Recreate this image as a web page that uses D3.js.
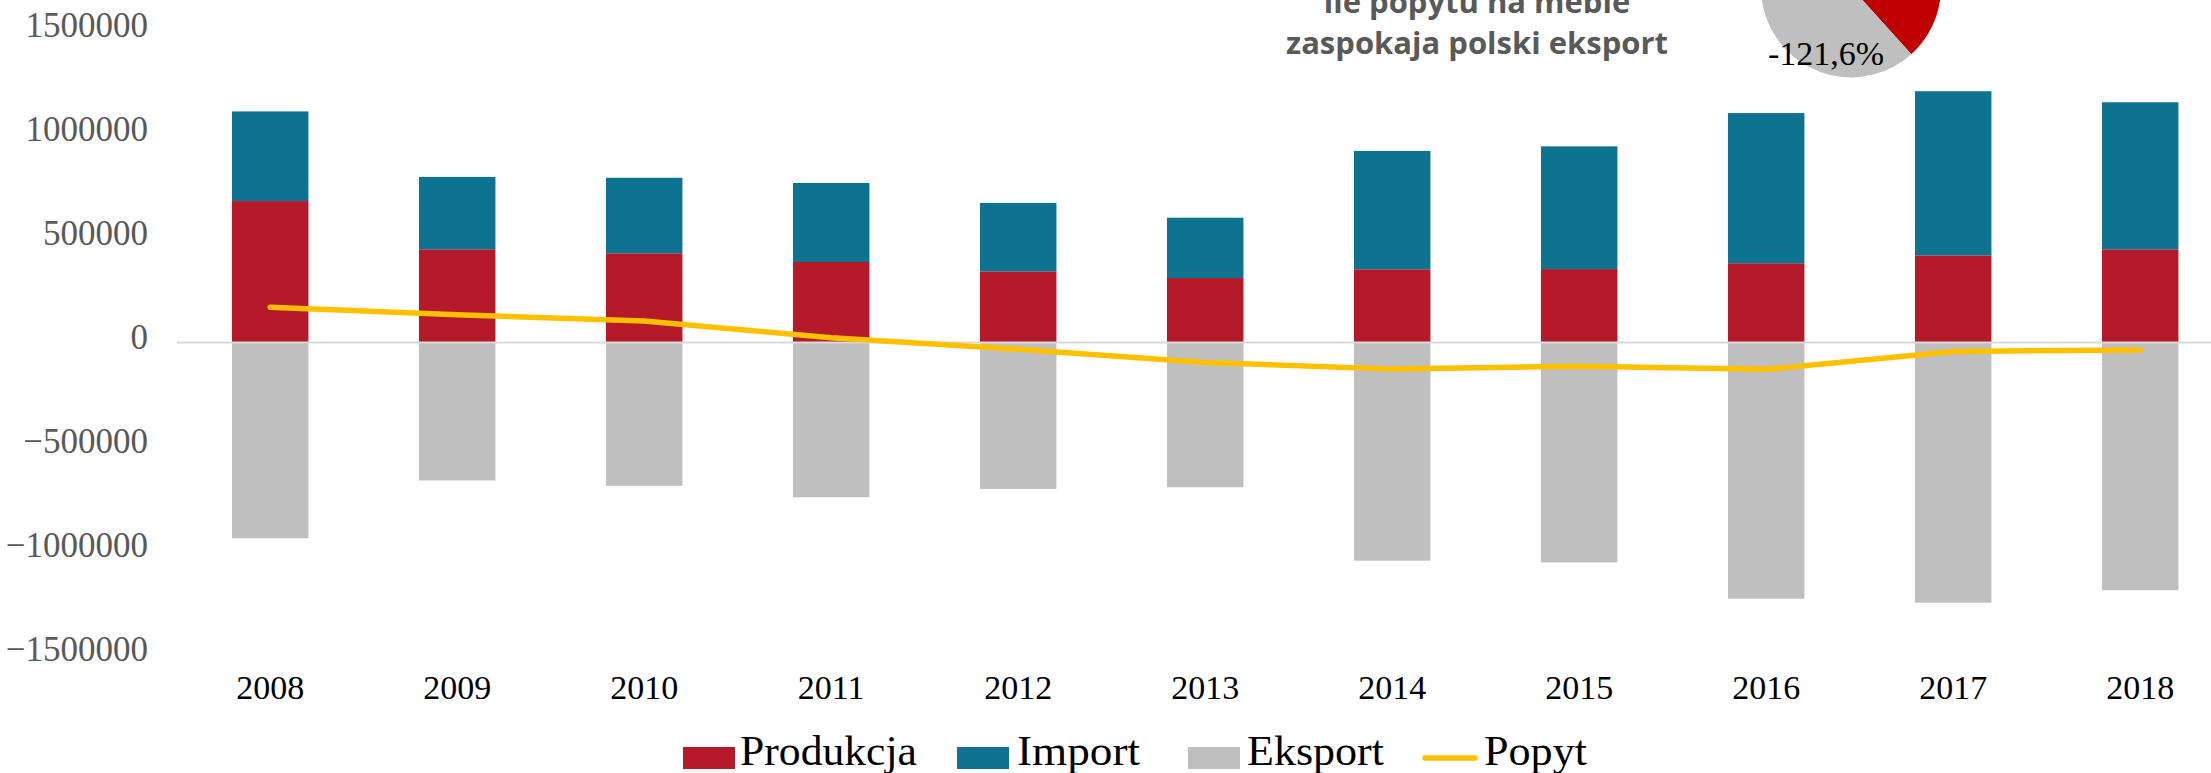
<!DOCTYPE html>
<html lang="pl">
<head>
<meta charset="utf-8">
<script src="https://cdn.jsdelivr.net/npm/d3@7"></script>
<style>
  html, body { margin: 0; padding: 0; background: #ffffff; }
  svg { display: block; }
</style>
</head>
<body>
<svg id="chart" width="2211" height="773"></svg>
<script>
// Lata
const years = ["2008", "2009", "2010", "2011", "2012", "2013", "2014", "2015", "2016", "2017", "2018"];

// Serie (wartości)
const produkcja = [680000, 448000, 429000, 387000, 342000, 310000, 352000, 353000, 381000, 419000, 448000];
const importVals = [431000, 348000, 363000, 380000, 329000, 290000, 569000, 590000, 722000, 789000, 707000];
const eksport = [-941000, -663000, -689000, -744000, -704000, -696000, -1049000, -1057000, -1232000, -1251000, -1191000];
const popyt = [170000, 133000, 103000, 23000, -33000, -96000, -128000, -114000, -129000, -43000, -36000];

// Oś Y
const yTicks = [-1500000, -1000000, -500000, 0, 500000, 1000000, 1500000];

// Legenda
const seriesNames = ["Produkcja", "Import", "Eksport", "Popyt"];

// Wykres kołowy: udział eksportu w popycie
const pieLabels = ["", "-121,6%"];
const pieValues = [75.5, 121.6];

// Tytuł
const titleLines = ["ile popytu na meble", "zaspokaja polski eksport"];

const colors = {
  Produkcja: "#B41A29",
  Import: "#0E7391",
  Eksport: "#BFBFBF",
  Popyt: "#FFC000"
};

const svg = d3.select("#chart");

const x = d3.scaleBand()
  .domain(years)
  .range([176.7, 2233.7])
  .paddingInner(0.591)
  .paddingOuter(0.2955);

const y = d3.scaleLinear()
  .domain([-1500000, 1500000])
  .range([654.5, 30.5]);

const serif = "'Liberation Serif', 'DejaVu Serif', serif";

// Słupki: produkcja od zera, import nad produkcją, eksport poniżej zera
const bars = svg.append("g");
years.forEach((yr, i) => {
  const bx = x(yr), bw = x.bandwidth();
  bars.append("rect")
    .attr("x", bx).attr("width", bw)
    .attr("y", y(produkcja[i])).attr("height", y(0) - y(produkcja[i]))
    .attr("fill", colors.Produkcja);
  bars.append("rect")
    .attr("x", bx).attr("width", bw)
    .attr("y", y(produkcja[i] + importVals[i]))
    .attr("height", y(produkcja[i]) - y(produkcja[i] + importVals[i]))
    .attr("fill", colors.Import);
  bars.append("rect")
    .attr("x", bx).attr("width", bw)
    .attr("y", y(0)).attr("height", y(eksport[i]) - y(0))
    .attr("fill", colors.Eksport);
});

// Linia zera
svg.append("line")
  .attr("x1", 176.7).attr("x2", 2233.7)
  .attr("y1", y(0)).attr("y2", y(0))
  .attr("stroke", "#D9D9D9").attr("stroke-width", 2);

// Linia popytu
const line = d3.line()
  .x((d, i) => x(years[i]) + x.bandwidth() / 2)
  .y(d => y(d));
svg.append("path")
  .datum(popyt)
  .attr("d", line)
  .attr("fill", "none")
  .attr("stroke", colors.Popyt)
  .attr("stroke-width", 5.5)
  .attr("stroke-linecap", "round")
  .attr("stroke-linejoin", "round");

// Etykiety osi Y
svg.append("g").selectAll("text")
  .data(yTicks)
  .join("text")
  .attr("x", 148)
  .attr("y", d => y(d) + 6)
  .attr("text-anchor", "end")
  .attr("font-family", serif)
  .attr("font-size", 35)
  .attr("fill", "#595959")
  .text(d => d3.format("d")(d));

// Etykiety osi X
svg.append("g").selectAll("text")
  .data(years)
  .join("text")
  .attr("x", d => x(d) + x.bandwidth() / 2)
  .attr("y", 699)
  .attr("text-anchor", "middle")
  .attr("font-family", serif)
  .attr("font-size", 34)
  .attr("fill", "#000000")
  .text(d => d);

// Legenda
const legend = svg.append("g");
const legendItems = [
  { name: seriesNames[0], kx: 683, tx: 740, tw: 177 },
  { name: seriesNames[1], kx: 957, tx: 1017, tw: 123 },
  { name: seriesNames[2], kx: 1188, tx: 1247, tw: 137 },
  { name: seriesNames[3], kx: 1423, tx: 1484, tw: 103 }
];
legendItems.forEach(it => {
  if (it.name === "Popyt") {
    legend.append("line")
      .attr("x1", it.kx + 2).attr("x2", it.kx + 52)
      .attr("y1", 758).attr("y2", 758)
      .attr("stroke", colors.Popyt).attr("stroke-width", 5.5)
      .attr("stroke-linecap", "round");
  } else {
    legend.append("rect")
      .attr("x", it.kx).attr("y", 747)
      .attr("width", 52).attr("height", 22)
      .attr("fill", colors[it.name]);
  }
  legend.append("text")
    .attr("x", it.tx).attr("y", 765)
    .attr("font-family", serif)
    .attr("font-size", 42)
    .attr("textLength", it.tw)
    .attr("lengthAdjust", "spacingAndGlyphs")
    .attr("fill", "#000000")
    .text(it.name);
});

// Tytuł
svg.append("g").selectAll("text")
  .data(titleLines)
  .join("text")
  .attr("x", 1477)
  .attr("y", (d, i) => 13 + i * 40.5)
  .attr("text-anchor", "middle")
  .attr("font-family", "'Open Sans', 'Noto Sans', sans-serif")
  .attr("font-weight", 700)
  .attr("font-size", 31)
  .attr("fill", "#595959")
  .text(d => d);

// Wykres kołowy
const pieColors = ["#C00000", "#BFBFBF"];
const pie = d3.pie().sort(null).value(d => d);
const arcs = pie(pieValues);
const arc = d3.arc().innerRadius(0).outerRadius(90);
const pieG = svg.append("g").attr("transform", "translate(1851,-12.6)");
pieG.selectAll("path")
  .data(arcs)
  .join("path")
  .attr("d", arc)
  .attr("fill", (d, i) => pieColors[i]);
pieG.append("text")
  .attr("x", -25)
  .attr("y", 77.6)
  .attr("text-anchor", "middle")
  .attr("font-family", serif)
  .attr("font-size", 34)
  .attr("fill", "#000000")
  .text(pieLabels[1]);
</script>
</body>
</html>
